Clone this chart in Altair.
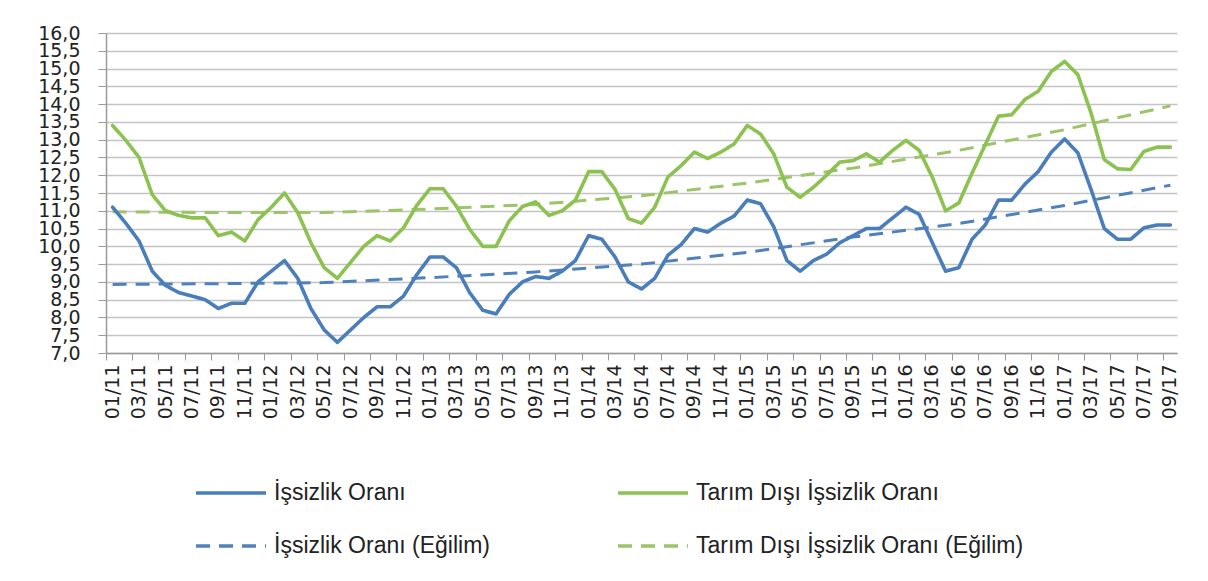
import altair as alt
import pandas as pd

# ---- categories -------------------------------------------------------------
years = ["11", "12", "13", "14", "15", "16", "17"]
months = ["01", "02", "03", "04", "05", "06", "07", "08", "09", "10", "11", "12"]
month_labels = [f"{m}/{y}" for y in years for m in months][:81]  # 01/11 .. 09/17
tick_labels = month_labels[::2]

y_ticks = [7.0, 7.5, 8.0, 8.5, 9.0, 9.5, 10.0, 10.5, 11.0, 11.5, 12.0,
           12.5, 13.0, 13.5, 14.0, 14.5, 15.0, 15.5, 16.0]

# legend grid is filled column by column: column 1 = İşsizlik, column 2 = Tarım Dışı
series_names = ["İşsizlik Oranı", "İşsizlik Oranı (Eğilim)",
                "Tarım Dışı İşsizlik Oranı", "Tarım Dışı İşsizlik Oranı (Eğilim)"]

# ---- values -----------------------------------------------------------------
issizlik = [
    11.1, 10.65, 10.15, 9.3, 8.9, 8.7, 8.6, 8.5, 8.25, 8.4, 8.4, 9.0,
    9.3, 9.6, 9.1, 8.25, 7.65, 7.3, 7.65, 8.0, 8.3, 8.3, 8.6, 9.2,
    9.7, 9.7, 9.4, 8.7, 8.2, 8.1, 8.65, 9.0, 9.15, 9.1, 9.3, 9.6,
    10.3, 10.2, 9.7, 9.0, 8.8, 9.1, 9.75, 10.05, 10.5, 10.4, 10.65, 10.85,
    11.3, 11.2, 10.55, 9.6, 9.3, 9.6, 9.78, 10.1, 10.3, 10.5, 10.5, 10.8,
    11.1, 10.9, 10.1, 9.3, 9.4, 10.2, 10.6, 11.3, 11.3, 11.75, 12.1, 12.65,
    13.02, 12.63, 11.6, 10.5, 10.2, 10.2, 10.52, 10.6, 10.6,
]
tarim_disi = [
    13.4, 12.98, 12.5, 11.45, 11.0, 10.87, 10.8, 10.8, 10.3, 10.4, 10.15, 10.75,
    11.1, 11.5, 10.95, 10.1, 9.4, 9.1, 9.55, 10.0, 10.3, 10.15, 10.52, 11.15,
    11.62, 11.62, 11.13, 10.48, 10.0, 10.0, 10.72, 11.12, 11.25, 10.87, 11.0, 11.3,
    12.1, 12.1, 11.6, 10.78, 10.65, 11.1, 11.95, 12.27, 12.65, 12.47, 12.65, 12.88,
    13.4, 13.16, 12.6, 11.66, 11.38, 11.66, 12.0, 12.37, 12.41, 12.6, 12.37, 12.7,
    12.98, 12.7, 11.94, 11.0, 11.22, 12.06, 12.86, 13.66, 13.7, 14.13, 14.36, 14.92,
    15.2, 14.83, 13.75, 12.44, 12.18, 12.16, 12.67, 12.79, 12.79,
]
trend_months = ["01/11", "09/11", "05/12", "01/13", "09/13", "05/14",
                "01/15", "09/15", "05/16", "01/17", "09/17"]
issizlik_trend = [8.93, 8.95, 8.98, 9.12, 9.28, 9.5, 9.83, 10.26, 10.64, 11.15, 11.72]
tarim_disi_trend = [10.97, 10.95, 10.95, 11.05, 11.18, 11.42, 11.78, 12.2, 12.7, 13.28, 13.95]

# ---- tables -----------------------------------------------------------------
main_df = pd.concat([
    pd.DataFrame({"ay": month_labels, "seri": series_names[0], "deger": issizlik}),
    pd.DataFrame({"ay": month_labels, "seri": series_names[2], "deger": tarim_disi}),
])
trend_df = pd.concat([
    pd.DataFrame({"ay": trend_months, "seri": series_names[1], "deger": issizlik_trend}),
    pd.DataFrame({"ay": trend_months, "seri": series_names[3], "deger": tarim_disi_trend}),
])

colors = ["#4a7ebb", "#4f81bd", "#8cc250", "#9cc468"]
dashes = [[1, 0], [14, 9], [1, 0], [14, 9]]

x_enc = alt.X(
    "ay:O",
    sort=month_labels,
    scale=alt.Scale(type="band", domain=month_labels, paddingInner=0, paddingOuter=0),
    axis=alt.Axis(
        values=tick_labels, title=None, bandPosition=0, labelAngle=270,
        labelFont="DejaVu Sans", labelFontSize=19, labelColor="#222222",
        labelPadding=4, labelOverlap=False, tickSize=7, tickColor="#9a9a9a",
        domainColor="#9a9a9a", domainWidth=1.5, grid=False,
    ),
)
y_enc = alt.Y(
    "deger:Q",
    scale=alt.Scale(domain=[7, 16], nice=False, zero=False),
    axis=alt.Axis(
        values=y_ticks, title=None, grid=True, gridColor="#c4c4c4", gridWidth=1.3,
        labelExpr="replace(format(datum.value, '.1f'), '.', ',')",
        labelFont="DejaVu Sans", labelFontSize=19, labelColor="#222222",
        labelPadding=18, labelOverlap=False, labelBound=False, tickSize=8,
        tickColor="#9a9a9a", domainColor="#9a9a9a", domainWidth=1.5,
    ),
)
color_enc = alt.Color(
    "seri:N",
    scale=alt.Scale(domain=series_names, range=colors),
    legend=alt.Legend(
        title=None, orient="none", legendX=88, legendY=449, columns=2,
        columnPadding=126, rowPadding=30, symbolType="stroke", symbolSize=4900,
        symbolStrokeWidth=3.5, labelFont="Liberation Sans", labelFontSize=23,
        labelColor="#222222", labelOffset=6, labelLimit=600, clipHeight=22,
    ),
)
dash_enc = alt.StrokeDash("seri:N", scale=alt.Scale(domain=series_names, range=dashes))

lines = alt.Chart(main_df).mark_line(strokeWidth=3.6, strokeJoin="round", strokeCap="round").encode(
    x=x_enc, y=y_enc, color=color_enc, strokeDash=dash_enc
)
trends = alt.Chart(trend_df).mark_line(strokeWidth=3).encode(
    x=x_enc, y=y_enc, color=color_enc, strokeDash=dash_enc
)

chart = (
    alt.layer(trends, lines)
    .properties(
        width=1071, height=320,
        autosize=alt.AutoSizeParams(type="none"),
        padding={"left": 98, "top": 25, "right": 23, "bottom": 220},
        background="white",
    )
    .configure_view(stroke=None)
)

chart.save("out.html", embed_options={"renderer": "svg", "actions": False})
